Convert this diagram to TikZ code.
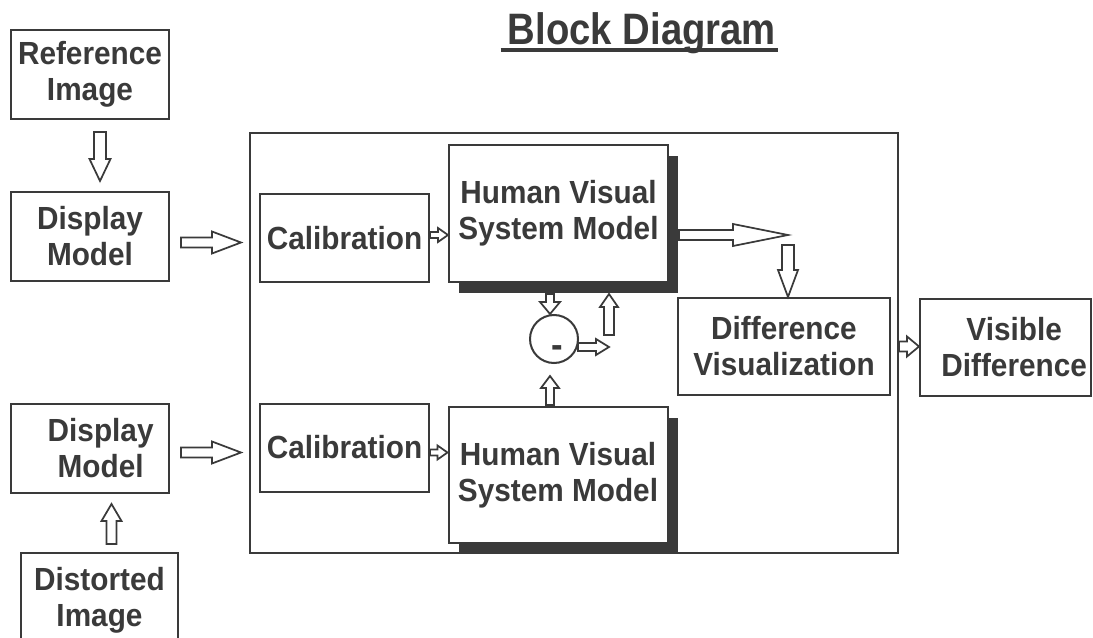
\documentclass[tikz,border=0pt]{standalone}
\usepackage{fontspec}
\setmainfont{Liberation Sans}
\newfontfamily\bodyfont[FakeStretch=0.93]{Liberation Sans}
\newfontfamily\titlefont[FakeStretch=0.87]{Liberation Sans}
\usetikzlibrary{calc,shadows}
\definecolor{ink}{RGB}{58,58,58}

\tikzset{
  x=0.75pt, y=-0.75pt,
  box/.style={draw=ink, line width=1.5pt, fill=white, text=ink,
    font=\bodyfont\bfseries\fontsize{24}{27}\selectfont, align=center, inner sep=0pt},
  shadowbox/.style={box, drop shadow={shadow xshift=7.5pt, shadow yshift=-8.25pt, fill=ink, opacity=1}},
  frame/.style={draw=ink, line width=1.5pt},
  barrow/.style={draw=ink, line width=1.3pt, fill=white, line join=miter},
}

% block arrow: #1 start, #2 tip, #3 shaft half width, #4 head half width, #5 head length (px)
\newcommand{\blockarrow}[5]{%
  \draw[barrow] let \p1=(#1), \p2=(#2),
    \n1={veclen(\x2-\x1,\y2-\y1)},
    \n2={(\x2-\x1)/\n1}, \n3={(\y2-\y1)/\n1},
    \n4={0.75*#3}, \n5={0.75*#4}, \n6={\n1-0.75*#5}
  in ({\x1-\n3*\n4},{\y1+\n2*\n4})
  -- ({\x1+\n2*\n6-\n3*\n4},{\y1+\n3*\n6+\n2*\n4})
  -- ({\x1+\n2*\n6-\n3*\n5},{\y1+\n3*\n6+\n2*\n5})
  -- (\p2)
  -- ({\x1+\n2*\n6+\n3*\n5},{\y1+\n3*\n6-\n2*\n5})
  -- ({\x1+\n2*\n6+\n3*\n4},{\y1+\n3*\n6-\n2*\n4})
  -- ({\x1+\n3*\n4},{\y1-\n2*\n4}) -- cycle;}

\begin{document}
\begin{tikzpicture}
\useasboundingbox (0,0) rectangle (1093,638);
\clip (0,0) rectangle (1093,638);
\fill[white] (0,0) rectangle (1093,638);

% title
\node[text=ink, font=\titlefont\bfseries\fontsize{33}{36}\selectfont, anchor=base, inner sep=0pt] (title) at (642,45) {Block Diagram};
\draw[ink, line width=3pt] ($(title.base west)+(-7,5)$) -- ($(title.base east)+(2,5)$);

% main frame
\node[frame, minimum width=486pt, minimum height=315pt] (main) at (574,343) {};

% left column
\node[box, minimum width=118.5pt, minimum height=66.75pt] (ref) at (90,74.5) {Reference\\Image};
\node[box, minimum width=118.5pt, minimum height=66.75pt] (disp1) at (90,236.5) {Display\\Model};
\node[box, minimum width=118.5pt, minimum height=66.75pt] (disp2) at (90,448.5) {\hspace*{16pt}Display\\\hspace*{16pt}Model};
\node[box, minimum width=117.75pt, minimum height=70.5pt] (dist) at (99.5,600) {Distorted\\Image};

% inside frame
\node[box, minimum width=126.75pt, minimum height=66pt] (cal1) at (344.5,238) {Calibration};
\node[box, minimum width=126.75pt, minimum height=66pt] (cal2) at (344.5,447.5) {Calibration};
\node[shadowbox, minimum width=164.25pt, minimum height=102.75pt] (hvs1) at (558.5,213.5) {Human Visual\\System Model};
\node[shadowbox, minimum width=164.25pt, minimum height=102pt] (hvs2) at (558,475) {Human Visual\\System Model};
\node[box, circle, minimum size=36pt] (circ) at (554,339) {\hspace*{4.5pt}\raisebox{-14pt}[0pt][0pt]{\fontsize{28}{30}\selectfont -}};
\node[box, minimum width=159pt, minimum height=72.75pt] (diff) at (784,346.5) {Difference\\Visualization};

% output
\node[box, minimum width=128.25pt, minimum height=72.75pt] (vis) at (1005.5,347.5) {\hspace*{13pt}Visible\\\hspace*{13pt}Difference};

% free ends
\coordinate (jr) at ($(circ.east)+(30,8)$);
\coordinate (ju) at (609,335);
\coordinate (jt) at (788,235);

% arrows
\blockarrow{$(ref.south)+(10,12)$}{$(disp1.north)+(10,-10)$}{6}{10.5}{22}
\blockarrow{$(disp1.east)+(11,6)$}{$(main.west |- disp1.east)+(-8,6)$}{5}{11}{29}
\blockarrow{$(disp2.east)+(11,4)$}{$(main.west |- disp2.east)+(-8,4)$}{5}{11}{29}
\blockarrow{$(dist.north)+(12,-8)$}{$(disp2.south)+(21.5,10)$}{5}{10}{17}
\blockarrow{$(cal1.east)+(0,-3)$}{$(cal1.east -| hvs1.west)+(0,-3)$}{3}{7}{10}
\blockarrow{$(cal2.east)+(0,5)$}{$(cal2.east -| hvs2.west)+(0,5)$}{3}{7}{10}
\blockarrow{$(circ.north |- hvs1.south)+(-4,11)$}{$(circ.north)+(-4,0)$}{4}{10}{12}
\blockarrow{$(circ.south |- hvs2.north)+(-4,-1)$}{$(circ.south)+(-4,12)$}{4}{9}{12}
\blockarrow{$(circ.east)+(-1,8)$}{jr}{4}{8}{13}
\blockarrow{ju}{$(ju |- hvs1.south)+(0,11)$}{5}{9}{13}
\blockarrow{$(hvs1.east)+(10,21.5)$}{jt}{5}{11}{55}
\blockarrow{$(jt)+(0,10)$}{jt |- diff.north}{6}{10}{27}
\blockarrow{main.east |- diff.east}{vis.west |- diff.east}{5}{10}{12}
\end{tikzpicture}
\end{document}
